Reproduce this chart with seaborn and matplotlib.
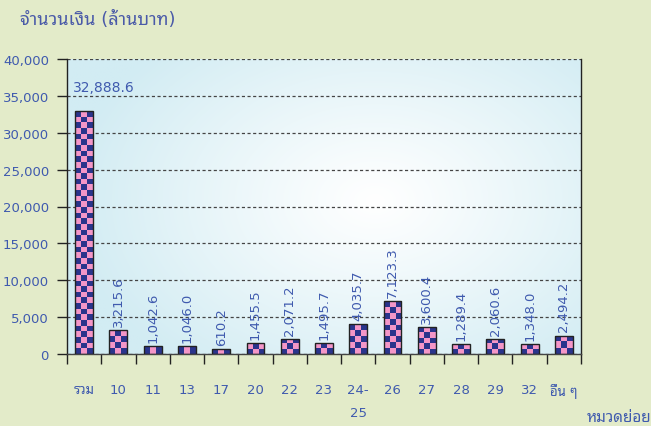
import matplotlib
matplotlib.use("Agg")
import numpy as np
import pandas as pd
import matplotlib.pyplot as plt
import seaborn as sns
from matplotlib import font_manager as fm
from matplotlib.ticker import FuncFormatter, FixedLocator

# ---- data ----
categories = ["รวม", "10", "11", "13", "17", "20", "22", "23", "24-\n25",
              "26", "27", "28", "29", "32", "อื่น ๆ"]
values = [32888.6, 3215.6, 1042.6, 1046.0, 610.2, 1455.5, 2071.2, 1495.7,
          4035.7, 7123.3, 3600.4, 1289.4, 2060.6, 1348.0, 2494.2]
value_labels = ["32,888.6", "3,215.6", "1,042.6", "1,046.0", "610.2", "1,455.5",
                "2,071.2", "1,495.7", "4,035.7", "7,123.3", "3,600.4", "1,289.4",
                "2,060.6", "1,348.0", "2,494.2"]
y_ticks = [0, 5000, 10000, 15000, 20000, 25000, 30000, 35000, 40000]
title_text = "จำนวนเงิน (ล้านบาท)"
xlabel_text = "หมวดย่อย"

sns.set_theme(style="white")

available = {f.name for f in fm.fontManager.ttflist}
thai = None
for cand in ["Tahoma", "Noto Sans Thai Looped", "Noto Sans Thai", "Sarabun",
             "IBM Plex Sans Thai Looped", "Thasadith"]:
    if cand in available:
        thai = cand
        break
fams = ["DejaVu Sans"] + ([thai] if thai else [])
plt.rcParams["font.family"] = fams

BLUE = "#3F5AAE"
BG = "#E3EBC9"
PINK = np.array([244, 150, 200]) / 255.0
NAVY = np.array([42, 52, 140]) / 255.0

df = pd.DataFrame({"cat": categories, "val": values})

fig = plt.figure(figsize=(6.51, 4.27), dpi=100, facecolor=BG)
ax = fig.add_axes([67 / 651, 1 - 355 / 427, 514 / 651, 295 / 427])

sns.barplot(data=df, x="cat", y="val", order=categories, ax=ax,
            width=0.52, color="#E88CC0", edgecolor="#222222", linewidth=1.0,
            saturation=1)

ax.set_xlim(-0.5, len(categories) - 0.5)
ax.set_ylim(0, 40000)

# gradient background
gx = np.linspace(0, 1, 300)
gy = np.linspace(0, 1, 200)
GX, GY = np.meshgrid(gx, gy)
d = np.sqrt(((GX - 0.60) / 0.60) ** 2 + ((GY - 0.52) / 0.72) ** 2)
d = np.clip(d, 0, 1) ** 1.1
edge = np.array([210, 236, 243]) / 255.0
white = np.array([1.0, 1.0, 1.0])
img = white[None, None, :] * (1 - d[..., None]) + edge[None, None, :] * d[..., None]
ax.imshow(img, extent=(0, 1, 0, 1), transform=ax.transAxes, origin="lower",
          aspect="auto", zorder=0, interpolation="bilinear")

# checker pattern on bars
px_per_x = 514 / len(categories)
px_per_y = 295 / 40000
cell = 5.6
for p in ax.patches:
    x0, w, h = p.get_x(), p.get_width(), p.get_height()
    ncol = max(1, int(round(w * px_per_x / cell)))
    nrow = max(1, int(round(h * px_per_y / cell)))
    r, c = np.indices((nrow, ncol))
    mask = ((r + c) % 2 == 0)
    arr = np.where(mask[..., None], NAVY, PINK)
    im = ax.imshow(arr, extent=(x0, x0 + w, 0, h), origin="lower",
                   aspect="auto", interpolation="nearest", zorder=2)
    im.set_clip_path(p)
    p.set_facecolor("none")
    p.set_zorder(3)

ax.set_xlim(-0.5, len(categories) - 0.5)
ax.set_ylim(0, 40000)
ax.set_aspect("auto")

# grid
ax.set_axisbelow(True)
ax.yaxis.grid(True, color="#444444", linestyle=(0, (2.5, 2)), linewidth=0.9, zorder=1)
ax.xaxis.grid(False)
for gl in ax.get_ygridlines():
    gl.set_zorder(1)

# spines
for s in ["left", "right", "bottom"]:
    ax.spines[s].set_visible(True)
    ax.spines[s].set_color("#222222")
    ax.spines[s].set_linewidth(1.0)
ax.spines["top"].set_visible(False)
ax.spines["bottom"].set_color("#444444")

# ticks
ax.set_yticks(y_ticks)
ax.yaxis.set_major_formatter(FuncFormatter(lambda v, _: f"{int(v):,}"))
ax.tick_params(axis="y", direction="out", length=7, width=1, color="#222222",
               labelcolor=BLUE, labelsize=9.5, pad=6, left=True)
ax.set_xticks(range(len(categories)))
ax.set_xticklabels(categories, linespacing=2.0)
ax.xaxis.set_minor_locator(FixedLocator(np.arange(-0.5, len(categories), 1.0)))
ax.tick_params(axis="x", which="major", length=0, labelcolor=BLUE,
               labelsize=9.5, pad=21, bottom=True)
ax.tick_params(axis="x", which="minor", direction="out", length=7, width=1,
               color="#222222", bottom=True)
ax.set_xlabel("")
ax.set_ylabel("")

# value labels
for i, (v, lab) in enumerate(zip(values, value_labels)):
    if i == 0:
        ax.text(i - 0.33, 36200, lab, ha="left", va="center", color=BLUE,
                fontsize=10, zorder=5)
    else:
        ax.annotate(lab, (i, v), xytext=(0, 3), textcoords="offset points",
                    ha="center", va="bottom", rotation=90, color=BLUE,
                    fontsize=9.5, zorder=5)

fig.text(20 / 651, 1 - 20 / 427, title_text, ha="left", va="center",
         color="#4A5AA8", fontsize=13)
fig.text(1.0, 1 - 418 / 427, xlabel_text, ha="right", va="center",
         color="#3F5AAE", fontsize=11, fontweight="bold")

fig.savefig("out.png", dpi=100, facecolor=BG)
